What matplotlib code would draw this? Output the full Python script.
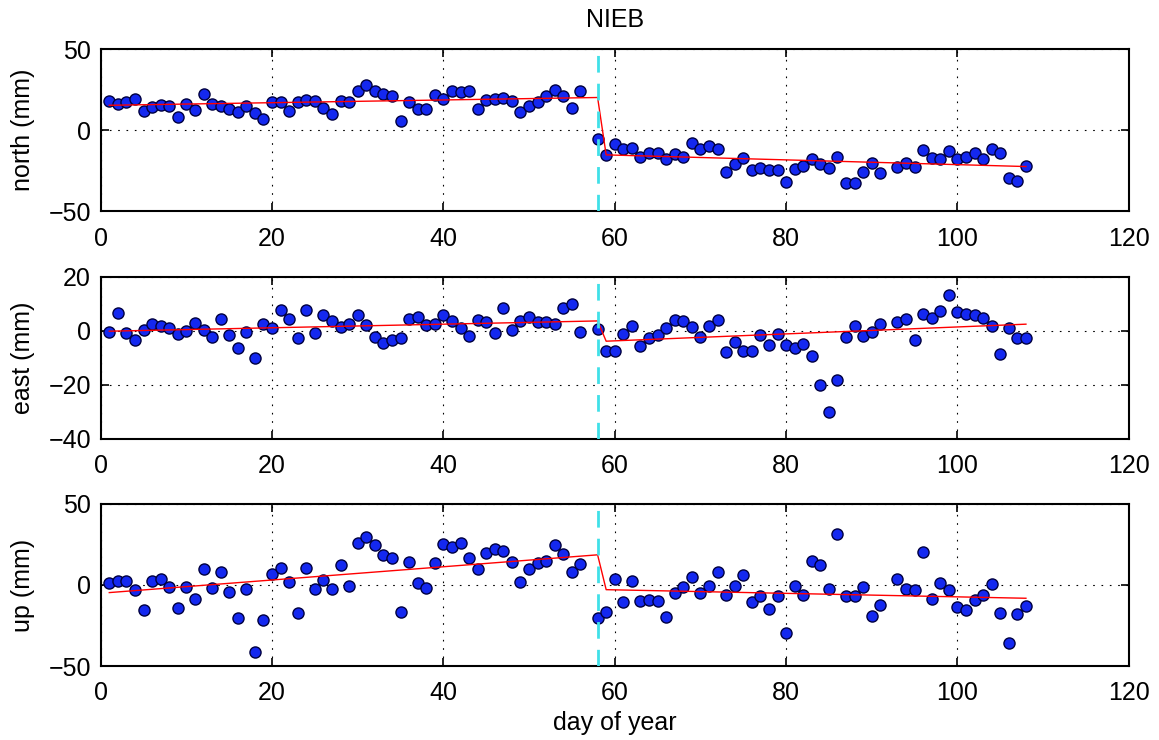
import matplotlib
matplotlib.use('Agg')
import matplotlib.pyplot as plt

plt.rcParams['font.family'] = ['Liberation Sans', 'DejaVu Sans']

# days with observations (57 and 92 missing)
days = list(range(1, 57)) + list(range(58, 92)) + list(range(93, 109))

north = [17.9, 16.3, 17.3, 19.5, 11.7, 14.2, 15.8, 15.2, 8.2, 16.5,
         12.3, 22.6, 16.5, 15.2, 13.2, 11.3, 15.2, 10.7, 7.0,
         17.3, 17.3, 11.7, 17.5, 18.5, 17.9, 13.8, 10.1, 17.9, 17.5,
         24.5, 28.2, 24.1, 22.4, 21.0, 5.8, 17.5, 13.2, 13.2, 21.6,
         19.3, 24.5, 23.7, 24.1, 13.2, 18.9, 19.3, 20.0, 17.9, 11.3,
         14.8, 17.5, 21.0, 25.1, 21.0, 13.8, 24.1,
         -5.6, -15.2, -8.2, -11.7, -10.7, -16.5, -13.8, -14.2, -17.9, -14.8,
         -16.5, -7.6, -11.3, -9.7, -11.3, -25.5, -20.6, -16.9, -24.5, -23.0,
         -24.5, -24.5, -31.7, -23.7, -22.0, -17.9, -21.0, -23.0, -16.5, -32.7,
         -32.3, -25.7, -20.4, -26.1,
         -22.4, -20.4, -22.4, -12.3, -16.9, -17.5, -12.8, -17.9, -16.3, -14.2,
         -17.5, -11.7, -14.2, -29.2, -31.3, -22.0]

east = [-0.4, 6.6, -0.7, -3.2, 0.2, 2.5, 1.7, 0.9, -1.0, 0.0,
        3.0, 0.2, -2.2, 4.3, -1.6, -6.3, -0.4, -9.9, 2.5, 0.9,
        7.9, 4.6, -2.8, 7.6, -0.7, 5.8, 3.6, 1.5, 2.7, 6.0,
        2.1, -2.2, -4.3, -3.4, -2.6, 4.3, 5.2, 2.1, 2.7, 5.8,
        3.7, 1.2, -2.0, 3.9, 3.3, -0.7, 8.5, 0.2, 3.6, 5.2,
        3.3, 3.3, 2.5, 8.5, 10.1, -0.4,
        0.6, -7.4, -7.4, -1.2, 1.8, -5.7, -2.8, -1.6, 0.9, 4.2,
        3.6, 1.5, -2.2, 1.7, 3.9, -7.8, -4.1, -7.4, -7.5, -1.6,
        -5.3, -1.0, -5.3, -6.2, -5.0, -9.4, -20.1, -29.9, -18.0, -2.2,
        1.7, -2.0, -0.4, 2.7,
        3.3, 4.6, -3.4, 6.4, 4.9, 7.4, 13.4, 7.0, 6.4, 5.8,
        4.9, 1.7, -8.4, 1.1, -2.6, -2.6]

up = [1.4, 2.7, 2.7, -3.1, -15.4, 2.7, 3.7, -1.0, -14.4, -1.4,
      -8.6, 9.9, -2.1, 7.8, -4.5, -20.6, -2.5, -41.2, -21.6, 6.6,
      10.3, 2.1, -17.5, 10.3, -2.5, 3.1, -2.5, 12.3, -0.4, 25.7,
      29.4, 24.7, 18.5, 16.9, -16.5, 14.4, 1.0, -2.1, 13.4, 25.1,
      23.7, 25.7, 16.9, 9.7, 19.5, 22.2, 21.0, 14.4, 1.8, 10.0,
      13.5, 14.5, 24.8, 19.1, 8.0, 12.9,
      -20.3, -16.8, 3.7, -10.5, 2.7, -10.0, -9.4, -10.0, -19.7, -4.9,
      -1.4, 4.9, -4.9, -0.8, 8.0, -5.9, -0.4, 6.4, -10.7, -7.0,
      -14.8, -7.0, -29.5, -0.8, -5.9, 15.0, 12.1, -2.3, 31.6, -7.0,
      -6.6, -1.2, -18.9, -12.1,
      3.7, -2.5, -3.3, 20.1, -8.6, 1.2, -2.9, -13.5, -15.2, -9.0,
      -5.9, 0.6, -17.2, -36.1, -18.2, -13.1]

# fitted trend with offset at the event day
fit_days = [1, 58, 59, 108]
north_fit = [15.4, 20.2, -15.2, -22.4]
east_fit = [-0.1, 3.7, -3.8, 2.5]
up_fit = [-4.7, 18.6, -2.9, -8.2]

event_day = 58
station = 'NIEB'

panels = [
    ('north (mm)', north, north_fit, (-50, 50), [-50, 0, 50]),
    ('east (mm)', east, east_fit, (-40, 20), [-40, -20, 0, 20]),
    ('up (mm)', up, up_fit, (-50, 50), [-50, 0, 50]),
]
# axes rectangles in figure fraction
boxes = [
    [0.0869, 0.7145, 0.887, 0.219],
    [0.0869, 0.4068, 0.887, 0.219],
    [0.0869, 0.1000, 0.887, 0.219],
]

fs = 18
fig = plt.figure(figsize=(11.59, 7.4), dpi=100)

for (label, vals, fit, ylim, yticks), box in zip(panels, boxes):
    ax = fig.add_axes(box)
    ax.plot(days, vals, 'o', markersize=8, markerfacecolor='#1428f0',
            markeredgecolor='#000040', markeredgewidth=1.0, zorder=3)
    ax.plot(fit_days, fit, color='red', linewidth=1.0, zorder=4)
    ax.axvline(event_day, color='#40e0e8', linestyle=(0, (6, 4)),
               linewidth=2.0, zorder=5)
    ax.set_xlim(0, 120)
    ax.set_ylim(*ylim)
    ax.set_xticks(range(0, 121, 20))
    ax.set_yticks(yticks)
    ax.set_ylabel(label, fontsize=fs)
    ax.yaxis.set_label_coords(-0.064, 0.5)
    ax.grid(True, color='black', linestyle=(0, (1.5, 6)), linewidth=0.8)
    ax.tick_params(direction='in', length=6, width=1.2, top=True,
                   right=True, labelsize=fs)
    ax.tick_params(axis='x', pad=11)
    ax.tick_params(axis='y', pad=7)
    for s in ax.spines.values():
        s.set_linewidth(1.5)
    if label.startswith('north'):
        ax.set_title(station, fontsize=fs, pad=16)

ax.set_xlabel('day of year', fontsize=fs)
ax.xaxis.set_label_coords(0.5, -0.28)

fig.savefig('out.png', dpi=100)
